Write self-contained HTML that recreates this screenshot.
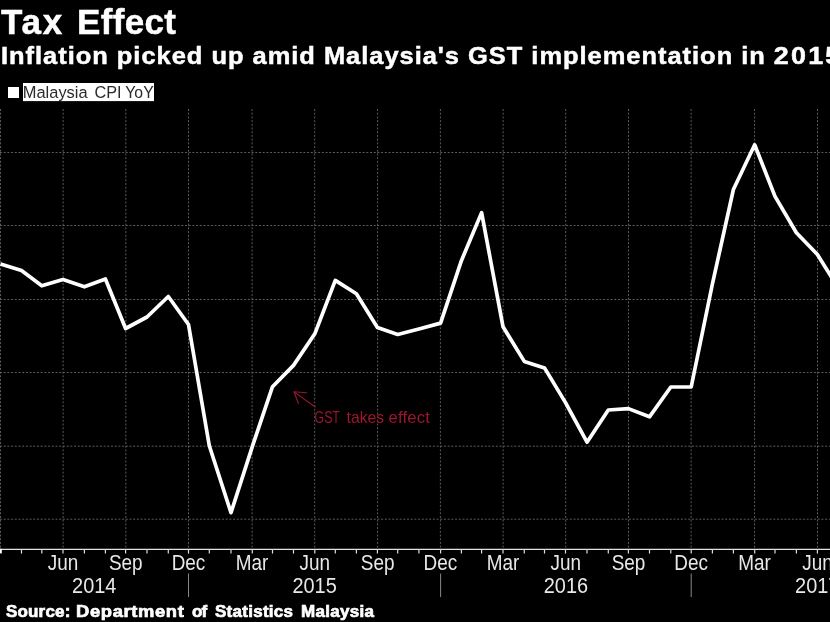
<!DOCTYPE html>
<html><head><meta charset="utf-8">
<style>
html,body{margin:0;padding:0;background:#000;}
body{width:830px;height:622px;overflow:hidden;position:relative;font-family:"Liberation Sans",sans-serif;}
.t{position:absolute;white-space:nowrap;color:#fff;font-weight:bold;-webkit-text-stroke:0.5px #fff;}
.title{top:3px;font-size:35px;line-height:38px;}
#sub{left:1px;top:42px;font-size:24px;line-height:27px;letter-spacing:0.93px;transform:scaleX(1.06);transform-origin:0 0;}
.src{top:603px;font-size:17px;line-height:17px;-webkit-text-stroke:0.7px #fff;}
svg{position:absolute;left:0;top:0;will-change:transform;}
.t{will-change:transform;}
</style></head><body>
<div class="t title" style="left:1px;letter-spacing:1.7px">Tax</div><div class="t title" style="left:77.1px;letter-spacing:0.34px">Effect</div>
<div class="t" id="sub">Inflation picked up amid Malaysia's GST implementation in <span style="display:inline-block;transform:scaleX(1.057);transform-origin:0 0;letter-spacing:2.0px">2015</span></div>
<svg width="830" height="622" viewBox="0 0 830 622">
<g stroke="#5c5c5c" stroke-width="1" stroke-dasharray="2 1.7"><line x1="0.5" y1="109" x2="0.5" y2="548.8"/><line x1="63.1" y1="109" x2="63.1" y2="548.8"/><line x1="125.8" y1="109" x2="125.8" y2="548.8"/><line x1="188.5" y1="109" x2="188.5" y2="548.8"/><line x1="252.1" y1="109" x2="252.1" y2="548.8"/><line x1="314.7" y1="109" x2="314.7" y2="548.8"/><line x1="377.6" y1="109" x2="377.6" y2="548.8"/><line x1="440.4" y1="109" x2="440.4" y2="548.8"/><line x1="503.1" y1="109" x2="503.1" y2="548.8"/><line x1="565.7" y1="109" x2="565.7" y2="548.8"/><line x1="628.5" y1="109" x2="628.5" y2="548.8"/><line x1="691.1" y1="109" x2="691.1" y2="548.8"/><line x1="754.6" y1="109" x2="754.6" y2="548.8"/><line x1="817.5" y1="109" x2="817.5" y2="548.8"/><line x1="0" y1="152.5" x2="830" y2="152.5"/><line x1="0" y1="225.5" x2="830" y2="225.5"/><line x1="0" y1="299.5" x2="830" y2="299.5"/><line x1="0" y1="372.5" x2="830" y2="372.5"/><line x1="0" y1="446.2" x2="830" y2="446.2"/><line x1="0" y1="519.2" x2="830" y2="519.2"/></g>
<rect x="8" y="87" width="11" height="11" fill="#fff"/>
<rect x="23" y="83" width="131" height="18.1" fill="#fff"/>
<g font-size="16.6" fill="#2a2a2a" font-family="Liberation Sans"><text transform="translate(22.8,98.4) scale(0.99,1)">Malaysia</text><text transform="translate(94.4,98.4) scale(0.98,1)">CPI</text><text transform="translate(125.3,98.4) scale(0.95,1)">YoY</text></g>
<polyline points="0.50,263.9 21.50,270.5 41.80,285.8 63.00,279.5 84.40,286.8 105.40,279.0 125.60,328.5 147.00,317.0 168.30,296.5 188.50,324.5 209.30,445.7 231.00,512.7 252.30,446.6 272.50,386.7 293.50,365.4 314.80,333.8 335.30,280.4 356.40,293.8 377.40,327.4 397.70,334.5 418.90,329.0 440.60,323.1 461.40,260.7 481.60,212.6 503.00,326.7 524.30,361.4 544.50,367.9 565.50,402.6 587.00,442.2 608.30,410.0 628.40,408.6 649.50,416.8 670.80,387.0 691.20,387.0 712.40,284.0 733.40,189.5 754.70,144.8 775.00,196.4 796.40,232.8 817.40,254.5 838.40,288.3" fill="none" stroke="#fff" stroke-width="3.7" stroke-linejoin="round"/>
<g stroke="#9e1530" stroke-width="1.1" fill="none">
<line x1="315.6" y1="407.2" x2="294" y2="391.9"/>
<polyline points="307,392.8 294,391.8 298.5,403.7"/>
</g>
<g font-size="16.6" fill="#9e1530" font-family="Liberation Sans"><text transform="translate(314.6,422.5) scale(0.74,1)">GST</text><text transform="translate(346.5,422.5) scale(0.95,1)">takes</text><text transform="translate(388.4,422.5) scale(1.0,1)" letter-spacing="0.25">effect</text></g>
<line x1="0" y1="549.4" x2="830" y2="549.4" stroke="#e2e2e2" stroke-width="1.4"/>
<rect x="0" y="548.8" width="1.8" height="4.6" fill="#fff"/>
<g stroke="#ddd" stroke-width="1.2"><line x1="21.50" y1="549" x2="21.50" y2="553.6"/><line x1="41.80" y1="549" x2="41.80" y2="553.6"/><line x1="63.00" y1="549" x2="63.00" y2="553.6"/><line x1="84.40" y1="549" x2="84.40" y2="553.6"/><line x1="105.40" y1="549" x2="105.40" y2="553.6"/><line x1="125.60" y1="549" x2="125.60" y2="553.6"/><line x1="147.00" y1="549" x2="147.00" y2="553.6"/><line x1="168.30" y1="549" x2="168.30" y2="553.6"/><line x1="188.50" y1="549" x2="188.50" y2="553.6"/><line x1="209.30" y1="549" x2="209.30" y2="553.6"/><line x1="231.00" y1="549" x2="231.00" y2="553.6"/><line x1="252.30" y1="549" x2="252.30" y2="553.6"/><line x1="272.50" y1="549" x2="272.50" y2="553.6"/><line x1="293.50" y1="549" x2="293.50" y2="553.6"/><line x1="314.80" y1="549" x2="314.80" y2="553.6"/><line x1="335.30" y1="549" x2="335.30" y2="553.6"/><line x1="356.40" y1="549" x2="356.40" y2="553.6"/><line x1="377.40" y1="549" x2="377.40" y2="553.6"/><line x1="397.70" y1="549" x2="397.70" y2="553.6"/><line x1="418.90" y1="549" x2="418.90" y2="553.6"/><line x1="440.60" y1="549" x2="440.60" y2="553.6"/><line x1="461.40" y1="549" x2="461.40" y2="553.6"/><line x1="481.60" y1="549" x2="481.60" y2="553.6"/><line x1="503.00" y1="549" x2="503.00" y2="553.6"/><line x1="524.30" y1="549" x2="524.30" y2="553.6"/><line x1="544.50" y1="549" x2="544.50" y2="553.6"/><line x1="565.50" y1="549" x2="565.50" y2="553.6"/><line x1="587.00" y1="549" x2="587.00" y2="553.6"/><line x1="608.30" y1="549" x2="608.30" y2="553.6"/><line x1="628.40" y1="549" x2="628.40" y2="553.6"/><line x1="649.50" y1="549" x2="649.50" y2="553.6"/><line x1="670.80" y1="549" x2="670.80" y2="553.6"/><line x1="691.20" y1="549" x2="691.20" y2="553.6"/><line x1="712.40" y1="549" x2="712.40" y2="553.6"/><line x1="733.40" y1="549" x2="733.40" y2="553.6"/><line x1="754.70" y1="549" x2="754.70" y2="553.6"/><line x1="775.00" y1="549" x2="775.00" y2="553.6"/><line x1="796.40" y1="549" x2="796.40" y2="553.6"/><line x1="817.40" y1="549" x2="817.40" y2="553.6"/></g><g stroke="#888" stroke-width="1"><line x1="188.50" y1="573.5" x2="188.50" y2="597"/><line x1="440.60" y1="573.5" x2="440.60" y2="597"/><line x1="691.20" y1="573.5" x2="691.20" y2="597"/></g>
<g fill="#e8e8e8" font-size="21.4" text-anchor="middle" font-family="Liberation Sans"><text transform="translate(63.10,569.9) scale(0.885,1)">Jun</text><text transform="translate(125.80,569.9) scale(0.885,1)">Sep</text><text transform="translate(188.50,569.9) scale(0.885,1)">Dec</text><text transform="translate(252.10,569.9) scale(0.885,1)">Mar</text><text transform="translate(314.70,569.9) scale(0.885,1)">Jun</text><text transform="translate(377.60,569.9) scale(0.885,1)">Sep</text><text transform="translate(440.40,569.9) scale(0.885,1)">Dec</text><text transform="translate(503.10,569.9) scale(0.885,1)">Mar</text><text transform="translate(565.70,569.9) scale(0.885,1)">Jun</text><text transform="translate(628.50,569.9) scale(0.885,1)">Sep</text><text transform="translate(691.10,569.9) scale(0.885,1)">Dec</text><text transform="translate(754.60,569.9) scale(0.885,1)">Mar</text><text transform="translate(817.50,569.9) scale(0.885,1)">Jun</text></g>
<g fill="#e8e8e8" font-size="22.4" text-anchor="middle" font-family="Liberation Sans"><text transform="translate(94.25,592.9) scale(0.89,1)">2014</text><text transform="translate(314.55,592.9) scale(0.89,1)">2015</text><text transform="translate(565.90,592.9) scale(0.89,1)">2016</text><text transform="translate(817.25,592.9) scale(0.89,1)">2017</text></g>
</svg>
<div class="t src" style="left:5.7px;letter-spacing:0.17px">Source:</div><div class="t src" style="left:75.7px;letter-spacing:0.6px;transform:scaleX(1.08);transform-origin:0 0">Department</div><div class="t src" style="left:191.6px;letter-spacing:-1px">of</div><div class="t src" style="left:214.9px;letter-spacing:0.27px">Statistics</div><div class="t src" style="left:300.7px;letter-spacing:0.29px">Malaysia</div>
</body></html>
